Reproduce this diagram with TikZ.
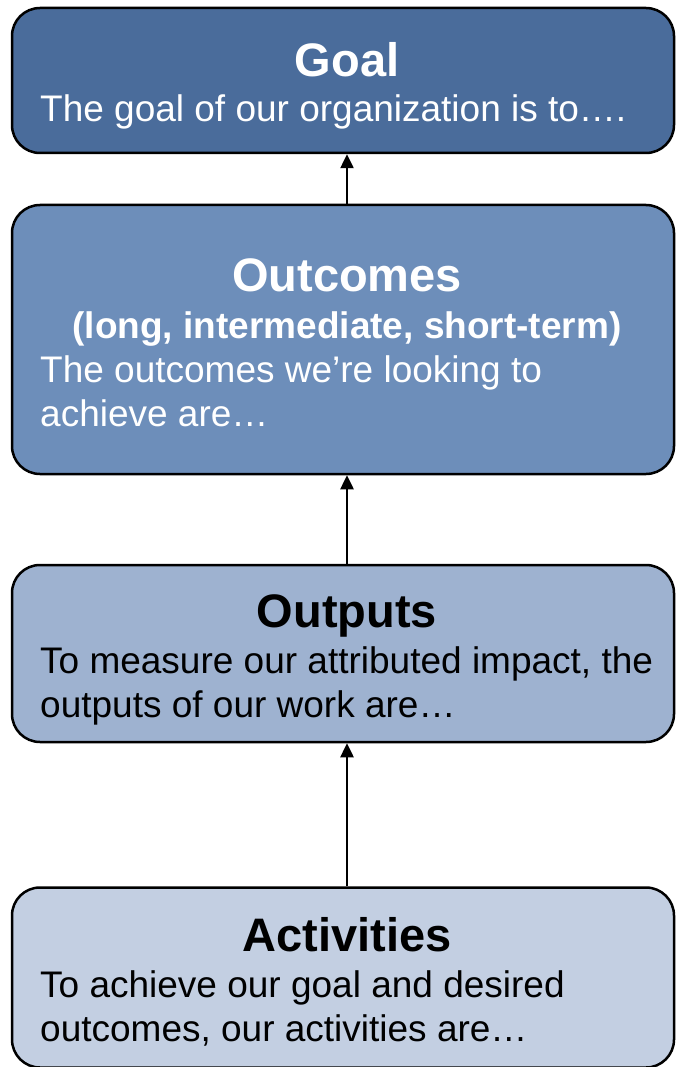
\documentclass[tikz,border=0pt]{standalone}
\usepackage{fontspec}
\setmainfont{Liberation Sans}
\usetikzlibrary{arrows.meta,positioning}
\definecolor{goalColor}{RGB}{74,108,155}
\definecolor{outcomeColor}{RGB}{109,142,186}
\definecolor{outputColor}{RGB}{158,178,208}
\definecolor{activityColor}{RGB}{195,207,226}
\newcommand{\headfont}{\fontsize{47}{52}\selectfont\bfseries}
\newcommand{\subheadfont}{\fontsize{37}{43}\selectfont\bfseries}
\newcommand{\bodyfont}{\fontsize{37}{43.5}\selectfont}

\begin{document}
\begin{tikzpicture}[
        x=1pt, y=-1pt,
        box/.style={draw, line width=2.5pt, rounded corners=28pt, minimum width=662pt, inner sep=0pt},
        hd/.style={anchor=base, font=\headfont, inner sep=0pt},
        sub/.style={anchor=base, font=\subheadfont, inner sep=0pt},
        txt/.style={anchor=base west, align=left, font=\bodyfont, inner sep=0pt},
        arr/.style={-{Triangle[length=14pt,width=13pt]}, line width=2.5pt}
      ]
      \useasboundingbox (0,0) rectangle (675,1067);

      % the four levels, bottom one runs off the page
      \node[box, fill=goalColor, minimum height=145pt] (goal) at (343,80.5) {};
      \node[box, fill=outcomeColor, minimum height=269pt] (outcomes) at (343,339.5) {};
      \node[box, fill=outputColor, minimum height=177pt] (outputs) at (343,653.5) {};
      \node[box, fill=activityColor, minimum height=180pt] (activities) at (343,977.5) {};

      % texts (base of a two-line text is its last line)
      \node[hd, white] (goalhd) at (347,77) {Goal};
      \node[txt, white] (goaltxt) at (40,122) {The goal of our organization is to….};

      \node[hd, white] (outcomeshd) at (347,291) {Outcomes};
      \node[sub, white] (outcomessub) at (347,338) {(long, intermediate, short-term)};
      \node[txt, white] (outcomestxt) at (40,426) {The outcomes we’re looking to\\achieve are…};

      \node[hd] (outputshd) at (347,627) {Outputs};
      \node[txt] (outputstxt) at (40,717) {To measure our attributed impact, the\\outputs of our work are…};

      \node[hd] (activitieshd) at (347,951) {Activities};
      \node[txt] (activitiestxt) at (40,1041) {To achieve our goal and desired\\outcomes, our activities are…};

      \draw[arr] ([xshift=4pt]outcomes.north) -- ([xshift=4pt]goal.south);
      \draw[arr] ([xshift=4pt]outputs.north) -- ([xshift=4pt]outcomes.south);
      \draw[arr] ([xshift=4pt]activities.north) -- ([xshift=4pt]outputs.south);
    \end{tikzpicture}
\end{document}
